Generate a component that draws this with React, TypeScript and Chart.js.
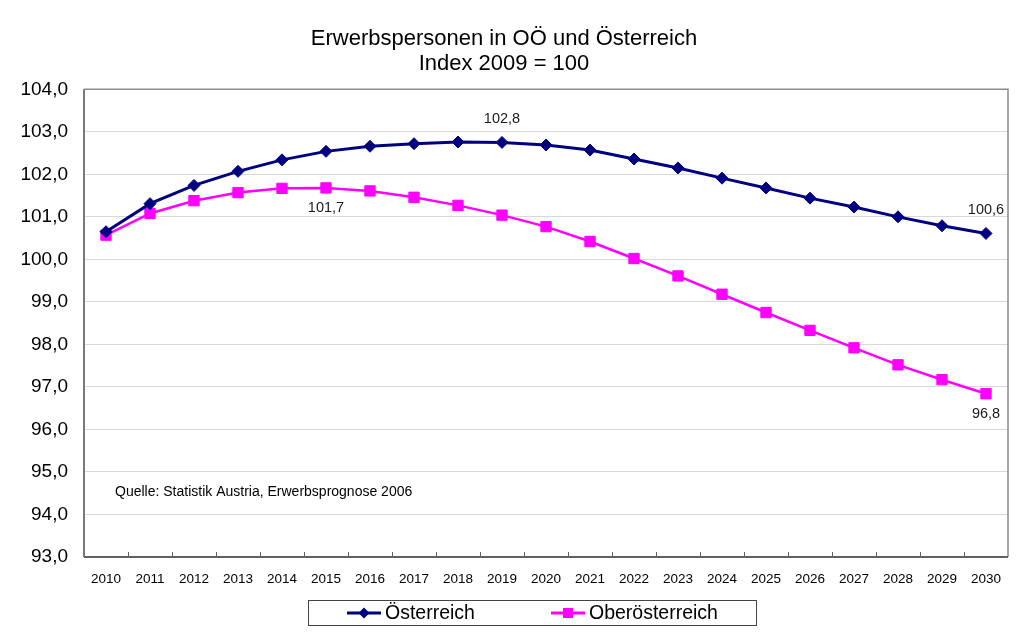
import React, { useEffect, useRef } from "react";
import { Chart, registerables } from "chart.js";

Chart.register(...registerables);

const years = [
  "2010", "2011", "2012", "2013", "2014", "2015", "2016", "2017", "2018", "2019", "2020",
  "2021", "2022", "2023", "2024", "2025", "2026", "2027", "2028", "2029", "2030",
];
const oesterreich = [
  100.65, 101.31, 101.74, 102.07, 102.34, 102.54, 102.66, 102.72, 102.76, 102.75, 102.69,
  102.57, 102.36, 102.15, 101.91, 101.68, 101.44, 101.23, 101.0, 100.79, 100.61,
];
const oberoesterreich = [
  100.57, 101.08, 101.38, 101.57, 101.67, 101.68, 101.61, 101.46, 101.27, 101.04, 100.77,
  100.42, 100.02, 99.61, 99.18, 98.75, 98.33, 97.92, 97.52, 97.17, 96.84,
];
const seriesNames = ["Österreich", "Oberösterreich"];
const yMin = 93;
const yMax = 104;
const yStep = 1;
const titleLines = ["Erwerbspersonen in OÖ und Österreich", "Index 2009 = 100"];
const sourceNote = "Quelle: Statistik Austria, Erwerbsprognose 2006";
const pointLabelSeries = [0, 1, 0, 1];
const pointLabelIndex = [9, 5, 20, 20];
const pointLabelText = ["102,8", "101,7", "100,6", "96,8"];
const pointLabelAbove = [true, false, true, false];

const FONT = "'Liberation Sans', Arial, sans-serif";
const NAVY = "#000080";
const MAGENTA = "#FF00FF";

const framePlugin = {
  id: "frame",
  beforeDatasetsDraw(chart: any) {
    const { ctx, chartArea } = chart;
    const { left, right, top, bottom } = chartArea;
    ctx.save();
    ctx.strokeStyle = "#8c8c8c";
    ctx.lineWidth = 1.5;
    ctx.beginPath();
    ctx.moveTo(left, top);
    ctx.lineTo(right, top);
    ctx.lineTo(right, bottom);
    ctx.stroke();
    ctx.strokeStyle = "#7a7a7a";
    ctx.lineWidth = 2;
    ctx.beginPath();
    ctx.moveTo(left, top);
    ctx.lineTo(left, bottom);
    ctx.stroke();
    ctx.strokeStyle = "#606060";
    ctx.beginPath();
    ctx.moveTo(left, bottom);
    ctx.lineTo(right, bottom);
    ctx.stroke();
    // category boundary tick marks
    const xs = chart.scales.x;
    ctx.lineWidth = 1;
    ctx.strokeStyle = "#606060";
    for (let i = 1; i < years.length; i++) {
      const bx = Math.round((xs.getPixelForValue(i - 1) + xs.getPixelForValue(i)) / 2) + 0.5;
      ctx.beginPath();
      ctx.moveTo(bx, bottom);
      ctx.lineTo(bx, bottom - 5);
      ctx.stroke();
    }
    ctx.restore();
  },
};

const annotatePlugin = {
  id: "annotate",
  afterDraw(chart: any) {
    const { ctx, chartArea } = chart;
    ctx.save();
    // point labels
    ctx.font = `14.5px ${FONT}`;
    ctx.fillStyle = "#1a1a1a";
    ctx.textAlign = "center";
    ctx.textBaseline = "middle";
    for (let k = 0; k < pointLabelText.length; k++) {
      const el = chart.getDatasetMeta(pointLabelSeries[k]).data[pointLabelIndex[k]];
      const dy = pointLabelAbove[k] ? -23 : 20;
      ctx.fillText(pointLabelText[k], el.x, el.y + dy);
    }
    // source note
    ctx.font = `14px ${FONT}`;
    ctx.textAlign = "left";
    ctx.fillStyle = "#000";
    ctx.fillText(sourceNote, chartArea.left + 31, chartArea.bottom - 65);

    // legend
    const lx = 308, ly = 600, lw = 448, lh = 25;
    ctx.strokeStyle = "#444";
    ctx.lineWidth = 1;
    ctx.strokeRect(lx + 0.5, ly + 0.5, lw, lh);
    const cy = ly + lh / 2 + 0.5;
    const items = [
      { x: 347, color: NAVY, style: "diamond", text: seriesNames[0] },
      { x: 551, color: MAGENTA, style: "square", text: seriesNames[1] },
    ];
    ctx.font = `19.5px ${FONT}`;
    ctx.textBaseline = "middle";
    for (const it of items) {
      ctx.strokeStyle = it.color;
      ctx.lineWidth = 3;
      ctx.beginPath();
      ctx.moveTo(it.x, cy);
      ctx.lineTo(it.x + 34, cy);
      ctx.stroke();
      ctx.fillStyle = it.color;
      const mx = it.x + 17;
      if (it.style === "diamond") {
        ctx.beginPath();
        ctx.moveTo(mx, cy - 5.5);
        ctx.lineTo(mx + 5.5, cy);
        ctx.lineTo(mx, cy + 5.5);
        ctx.lineTo(mx - 5.5, cy);
        ctx.closePath();
        ctx.fill();
      } else {
        ctx.fillRect(mx - 5, cy - 5, 10, 10);
      }
      ctx.fillStyle = "#000";
      ctx.fillText(it.text, it.x + 38, cy + 1);
    }
    ctx.restore();
  },
};

function LineChart() {
  const ref = useRef<HTMLCanvasElement | null>(null);
  useEffect(() => {
    if (!ref.current) return;
    const chart = new Chart(ref.current, {
      type: "line",
      data: {
        labels: years,
        datasets: [
          {
            label: seriesNames[0],
            data: oesterreich,
            borderColor: NAVY,
            backgroundColor: NAVY,
            borderWidth: 3,
            pointStyle: "rectRot",
            pointRadius: 6,
            pointBorderWidth: 1,
            tension: 0,
          },
          {
            label: seriesNames[1],
            data: oberoesterreich,
            borderColor: MAGENTA,
            backgroundColor: MAGENTA,
            borderWidth: 2.5,
            pointStyle: "rect",
            pointRadius: 7.3,
            pointBorderWidth: 1,
            tension: 0,
          },
        ],
      },
      options: {
        responsive: false,
        animation: false,
        devicePixelRatio: 1,
        layout: { padding: { top: 0, right: 16, bottom: 0, left: 0 } },
        plugins: {
          legend: { display: false },
          tooltip: { enabled: false },
          title: {
            display: true,
            text: titleLines,
            color: "#000",
            font: { family: FONT, size: 22, weight: "normal", lineHeight: 1.12 },
            padding: { top: 27, bottom: 13 },
          },
        },
        scales: {
          x: {
            type: "category",
            offset: true,
            grid: { display: false },
            border: { display: false },
            ticks: {
              color: "#000",
              font: { family: FONT, size: 13.5 },
              padding: 6,
              maxRotation: 0,
              autoSkip: false,
            },
            afterFit(scale: any) {
              scale.height = 79;
            },
          },
          y: {
            min: yMin,
            max: yMax,
            border: { display: false },
            grid: { color: "#d9d9d9", lineWidth: 1, drawTicks: false },
            ticks: {
              stepSize: yStep,
              color: "#000",
              font: { family: FONT, size: 19 },
              padding: 16,
              callback: (v: any) => Number(v).toFixed(1).replace(".", ","),
            },
            afterFit(scale: any) {
              scale.width = 84;
            },
          },
        },
      },
      plugins: [framePlugin, annotatePlugin],
    } as any);
    return () => chart.destroy();
  }, []);
  return <canvas ref={ref} width={1024} height={636} style={{ display: "block" }} />;
}

export default function App() {
  return (
    <div style={{ position: "absolute", left: 0, top: 0, width: 1024, height: 636, background: "#fff" }}>
      <LineChart />
    </div>
  );
}
